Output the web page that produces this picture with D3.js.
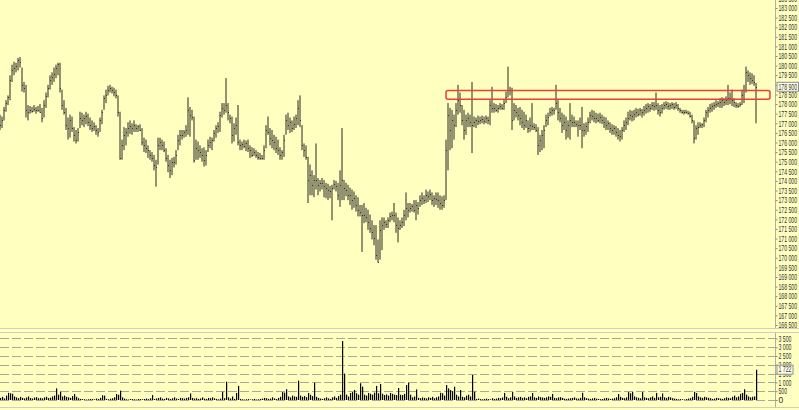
<!DOCTYPE html>
<html>
<head>
<meta charset="utf-8">
<script src="https://cdn.jsdelivr.net/npm/d3@7"></script>
<style>
  body { margin: 0; background: #ffffc0; }
  svg { display: block; }
  .lbl { font-family: "Liberation Sans", Arial, sans-serif; font-size: 8.5px; fill: #333; }
</style>
</head>
<body>
<svg id="chart" width="799" height="410"></svg>
<script>
// bar data, one entry per bar (oldest first)
const high = [
  177450,177350,177850,178200,178450,179500,180050,180200,180150,180400,
  180450,179900,179150,179000,177950,177900,177850,177950,177850,177900,
  178000,177800,178200,178600,179000,179500,179650,179900,180050,180150,
  180150,178750,178200,177800,177300,177450,177350,176800,176650,176750,
  177600,177550,177450,177600,177500,177300,177150,177050,176900,176750,
  177300,177700,178450,178750,178950,179000,178900,178850,178750,178450,
  177600,176150,176800,176750,177050,177150,177000,177150,176950,176900,
  176950,176750,176250,176150,175850,175600,175500,175350,175100,176250,
  176250,176150,176050,175700,175350,175100,175200,175250,175600,176400,
  176650,176650,176650,176900,178350,177850,177700,177350,176150,176050,
  175850,175700,175750,175600,176150,176300,176250,176650,176900,177050,
  177600,178050,178050,179350,178050,177450,177350,177000,177300,177950,
  176150,176050,176150,176100,176150,175850,175750,175700,175600,175500,
  175450,175350,175850,176900,177350,176750,176650,176400,176300,176150,
  175750,175600,176400,177450,177550,177300,177150,177350,177450,178200,
  178450,176900,175950,175850,175250,174850,174550,174300,175950,174150,
  174050,174150,174050,173900,173850,173750,173800,174050,174000,173900,
  174550,176750,174050,173900,173800,173650,173550,173450,173250,173150,
  172750,172750,172850,172600,172500,172250,171950,171700,171700,170950,
  171950,172100,172100,171950,172100,172350,172400,172850,172350,172100,
  171950,172100,172500,173400,172850,172850,172800,173000,173000,172900,
  173250,173400,173250,173550,173450,173550,173400,173250,173400,173400,
  173250,173200,173250,176150,178050,177800,177700,177450,178050,179000,
  178600,177950,177700,177450,177550,177450,179150,177350,177300,177400,
  177350,177400,177350,177400,177350,178200,178900,178050,178000,177950,
  178050,178000,178200,178650,179950,178900,178850,178050,177950,177800,
  177850,177700,177600,177450,177150,177300,178050,177000,176950,176800,
  176400,176650,176900,177450,177550,177800,177850,177800,179000,178200,
  177800,177550,177450,177350,177150,178050,177450,177350,177150,177150,
  177300,177850,177000,177050,177300,177600,177700,177650,177550,177500,
  177550,177450,177350,177300,177150,177050,176950,176900,176850,176750,
  176650,176800,177150,177300,177600,177700,177650,177700,177800,177750,
  177800,177750,177900,178000,178050,178000,178100,178100,178600,178050,
  177950,178000,178100,178150,178100,178050,178100,178050,178100,178000,
  177800,177700,177700,177700,177650,177600,177450,177150,176900,177050,
  177050,177000,177300,177700,177850,178000,178050,178100,178200,178150,
  178300,178350,178300,178400,179000,178600,178750,178300,178100,178050,
  178100,178750,179000,179950,179750,179650,179600,179500,179100
];
const low = [
  176650,176750,177150,177600,177950,178200,179150,179500,179650,179750,
  179900,178650,178600,177300,177150,177500,177550,177600,177500,177600,
  177550,177050,177300,177800,178350,178750,179000,179150,179350,179500,
  178600,177700,177450,176650,176150,176250,176550,176050,175950,176050,
  176750,176900,176800,176950,176850,176650,176550,176600,176400,176300,
  176550,176950,177700,178050,178450,178600,178550,178400,178300,177350,
  175100,175100,175600,175850,176300,176450,176400,176550,176550,176550,
  176600,175850,175500,175450,175200,175100,175000,174550,173700,174850,
  175600,175600,175500,175000,174450,174150,174300,174700,174850,175600,
  175850,176150,176250,176300,176400,176300,177150,174950,175100,175100,
  175200,175000,174750,174800,175500,175700,175600,176050,176250,176500,
  176550,177300,177450,177550,177150,177000,175950,176050,176400,175850,
  175600,175600,175700,175550,175500,175200,175250,175300,175200,175100,
  175100,175100,175100,175700,176400,175850,175700,175600,175450,175350,
  175100,175100,175250,176400,176650,176500,176550,176650,176750,176900,
  176800,175600,175250,175100,172850,173250,173250,173150,173550,173250,
  173450,173550,173150,173100,173000,173100,171950,173550,173450,173000,
  172650,173000,173000,173200,173000,172750,172500,172600,172400,172150,
  172150,170300,171800,171850,171450,171300,170950,170650,169900,169750,
  169900,170400,171450,171550,171550,171850,171950,171850,171300,170800,
  171450,171550,171650,171950,172100,172350,172400,172350,171950,172250,
  172650,172750,172800,172850,172900,173000,172750,172650,172750,172600,
  172500,172500,172600,173000,174550,175600,175700,176150,176800,177450,
  177550,176900,176150,176400,176800,176800,175450,176800,176750,176900,
  176950,177000,176950,177000,176950,176900,177550,177550,177600,177550,
  177700,177700,177700,178050,178350,178450,176650,177150,177300,177150,
  176900,176750,176650,176750,176500,176550,176650,176650,176550,175350,
  175500,175600,175700,176800,176900,177350,177400,177450,177700,177150,
  177050,176500,176650,176150,176250,176150,176800,176800,176800,176300,
  176650,175700,176300,176400,176550,177000,177150,177050,177000,177050,
  177000,176950,176750,176650,176650,176500,176400,176400,176300,176150,
  176050,176150,176550,176650,176900,177150,177100,177150,177300,177350,
  177400,177300,177400,177500,177550,177600,177700,177650,177700,177450,
  177350,177500,177700,177750,177700,177700,177750,177700,177750,177650,
  177550,177500,177450,177500,177450,177300,177000,175950,176150,176400,
  176750,176750,176800,177050,177300,177550,177600,177700,177800,177850,
  177800,177800,177900,177950,177950,178000,177900,177850,177800,177800,
  177850,177950,178050,178600,179150,179000,179050,178950,177000
];
const close = [
  176900,177150,177700,178050,178350,179250,179750,179900,180000,180300,
  180200,179000,178850,177700,177600,177700,177650,177750,177700,177700,
  177600,177300,177950,178400,178850,179250,179400,179550,179900,180100,
  178850,177950,177600,176900,176750,177150,176750,176400,176150,176550,
  177300,177150,177300,177400,177050,176900,176750,176850,176650,176550,
  177150,177600,178300,178450,178750,178850,178750,178650,178450,177600,
  175200,175850,176400,176550,176750,176850,176750,176900,176750,176850,
  176650,176050,175850,175700,175600,175350,175200,174850,174700,175850,
  176050,175850,175600,175200,174850,174550,175000,175000,175350,176150,
  176400,176400,176550,176650,177700,177450,177350,175100,175700,175600,
  175500,175350,175100,175350,175850,176050,176150,176500,176750,176850,
  177450,177800,177700,177950,177600,177300,176400,176750,176900,176050,
  175850,175900,175800,175950,175700,175600,175350,175500,175350,175250,
  175200,175200,175600,176650,176550,176250,176150,176050,175700,175600,
  175350,175500,176150,177150,176900,177050,176750,176950,177300,177800,
  177150,175850,175600,175250,174050,174300,173800,174050,174050,173800,
  173900,173900,173750,173650,173550,173450,173650,173850,173750,173250,
  173800,174050,173650,173550,173250,173250,173000,173100,172750,172500,
  172400,172250,172250,172100,171850,171550,171350,171050,170150,169800,
  171450,171700,171850,171750,171950,172150,172250,172250,171700,171550,
  171700,171850,172250,172600,172500,172600,172700,172500,172750,172600,
  173000,173100,173000,173250,173200,173300,173000,173100,173050,173000,
  172850,172750,173000,175600,177450,176650,177150,176900,177700,178200,
  177950,177150,176650,177150,177300,177050,176900,177050,177150,177100,
  177150,177200,177100,177300,177150,177950,177800,177800,177700,177800,
  177900,177800,178050,178350,178750,178750,177150,177700,177600,177450,
  177300,177050,176900,177150,176750,176900,176850,176800,176650,175850,
  176150,176400,176650,177150,177350,177600,177700,177700,178050,177600,
  177300,176900,177050,176650,176900,177150,177050,177050,176950,176900,
  176900,176650,176650,176850,177050,177450,177400,177300,177300,177150,
  177350,177150,177050,176900,177000,176750,176650,176750,176550,176400,
  176350,176650,176900,177050,177300,177450,177400,177500,177600,177500,
  177700,177600,177700,177800,177900,177800,177950,177900,177950,177700,
  177600,177800,177950,178000,177900,177950,178000,177850,177950,177800,
  177700,177600,177600,177600,177550,177400,177150,176250,176750,176800,
  176900,176950,177150,177600,177700,177800,177900,177950,178000,178050,
  178100,178200,178100,178200,178300,178300,178200,178100,177950,177900,
  178000,178450,178750,179650,179500,179350,179250,179150,178900
];
const volume = [
  120,180,90,250,410,380,350,200,150,100,
  180,120,90,150,200,110,80,140,160,100,
  120,90,150,180,110,130,200,250,660,300,
  470,200,250,180,150,120,220,340,180,100,
  60,50,40,30,40,60,50,40,80,60,
  120,270,250,60,40,70,100,150,340,300,
  530,150,80,40,30,60,50,40,30,60,
  50,40,60,80,50,100,280,60,90,120,
  150,80,60,120,90,60,100,150,80,60,
  120,100,80,120,150,370,120,80,100,60,
  90,150,80,60,120,100,150,90,60,40,
  80,470,100,1040,150,80,200,60,400,800,
  60,40,30,40,50,30,40,60,30,40,
  60,80,120,100,60,80,150,90,60,120,
  180,450,420,610,200,150,250,200,180,1100,
  250,180,220,160,400,300,220,980,180,120,
  80,60,100,150,90,60,150,200,120,220,
  300,3350,1500,300,200,400,450,570,380,300,
  950,760,300,250,400,350,300,420,800,380,
  910,350,280,320,250,400,350,300,280,680,
  300,280,350,850,980,300,150,200,600,120,
  100,150,120,90,150,120,180,100,150,200,
  410,380,250,850,660,570,500,760,300,200,
  570,180,150,250,300,200,1420,470,60,80,
  50,40,60,80,50,40,100,60,80,120,
  100,150,400,180,100,150,450,200,120,150,
  180,120,150,100,180,200,400,150,120,200,
  160,140,120,150,200,180,340,120,100,150,
  160,120,80,60,80,100,120,150,90,80,
  120,410,150,100,80,60,90,120,80,60,
  50,60,100,120,90,60,80,100,150,340,
  180,120,100,150,450,380,460,200,150,120,
  100,450,150,120,100,150,200,120,400,150,
  180,370,150,120,180,150,100,80,60,40,
  50,40,30,60,80,100,180,470,400,200,
  150,120,180,150,120,100,60,80,120,100,
  80,60,100,150,120,100,180,250,150,200,
  350,400,610,300,200,150,180,200,1722
];

const priceTicks = d3.range(166500, 184000, 500);
const volumeTicks = [0, 500, 1000, 1500, 2000, 2500, 3000, 3500];
const lastPrice = 178900;
const lastVolume = 1722;
// marked resistance band (bar index range, price range)
const zone = { from: 223, to: 385, top: 178700, bottom: 178250 };

const W = 799, H = 410, axisX = 775.5;

const svg = d3.select("#chart");

const x = d3.scaleLinear().domain([0, high.length - 1]).range([0, 756]);
const yP = d3.scaleLinear().domain([166500, 183000]).range([325, 8]);
const yV = d3.scaleLinear().domain([0, 3500]).range([400, 338.4]);

const fmt = d3.formatLocale({decimal: ".", thousands: " ", grouping: [3], currency: ["", ""]}).format(",");

svg.append("rect").attr("width", W).attr("height", H).attr("fill", "#ffffc0");

// panel separators
[328.5, 332.5, 407.5].forEach(function(y) {
  svg.append("line").attr("x1", 0).attr("x2", W).attr("y1", y).attr("y2", y)
    .attr("stroke", "#cfcfc0").attr("stroke-width", 1);
});

// volume grid
svg.append("g").selectAll("line")
  .data(volumeTicks)
  .enter().append("line")
  .attr("x1", 0).attr("x2", axisX)
  .attr("y1", function(d) { return Math.round(yV(d)) + 0.5; })
  .attr("y2", function(d) { return Math.round(yV(d)) + 0.5; })
  .attr("stroke", "#a8a8a0")
  .attr("stroke-dasharray", "9,3");

// volume bars
svg.append("g").selectAll("rect")
  .data(volume)
  .enter().append("rect")
  .attr("x", function(d, i) { return x(i); })
  .attr("width", 1.2)
  .attr("y", function(d) { return yV(d); })
  .attr("height", function(d) { return yV(0) - yV(d); })
  .attr("fill", "#000");

// price bars (high-low with close tick)
svg.append("path")
  .attr("d", high.map(function(h, i) {
    var xi = x(i);
    var yc = Math.round(yP(close[i])) + 0.5;
    return "M" + xi + "," + yP(h) + "V" + yP(low[i]) + "M" + xi + "," + yc + "H" + (xi + 0.8);
  }).join(""))
  .attr("fill", "none")
  .attr("stroke", "#111")
  .attr("stroke-width", 0.9);

// resistance band
svg.append("rect")
  .attr("x", x(zone.from))
  .attr("y", yP(zone.top))
  .attr("width", x(zone.to) - x(zone.from))
  .attr("height", yP(zone.bottom) - yP(zone.top))
  .attr("rx", 2)
  .attr("fill", "none")
  .attr("stroke", "#e8403a")
  .attr("stroke-width", 1.5);

// axes
svg.append("line").attr("x1", axisX).attr("x2", axisX).attr("y1", 0).attr("y2", 328)
  .attr("stroke", "#b0b0a0");
svg.append("line").attr("x1", axisX).attr("x2", axisX).attr("y1", 333).attr("y2", 407)
  .attr("stroke", "#b0b0a0");

function squeeze(sel) {
  sel.selectAll("text")
    .attr("class", "lbl")
    .each(function() {
      var t = d3.select(this).text();
      if (t.length >= 3) {
        var digits = t.replace(/ /g, "").length;
        var spaces = t.length - digits;
        d3.select(this).attr("textLength", digits * 2.85 + spaces * 1.5)
          .attr("lengthAdjust", "spacingAndGlyphs");
      }
    });
  sel.select(".domain").remove();
  sel.selectAll(".tick line").attr("stroke", "#888");
}

svg.append("g")
  .attr("transform", "translate(" + axisX + ",0)")
  .call(d3.axisRight(yP).tickValues(priceTicks).tickSize(2).tickPadding(1).tickFormat(fmt))
  .call(squeeze);

svg.append("g")
  .attr("transform", "translate(" + axisX + ",0)")
  .call(d3.axisRight(yV).tickValues(volumeTicks).tickSize(2).tickPadding(1).tickFormat(fmt))
  .call(squeeze);

// last value markers
function marker(y, label, w) {
  var g = svg.append("g").attr("transform", "translate(" + (axisX + 1) + "," + y + ")");
  g.append("rect").attr("x", 0.5).attr("y", -4.5).attr("width", w).attr("height", 9)
    .attr("fill", "#ffffe8").attr("stroke", "#909090");
  var digits = label.replace(/ /g, "").length;
  g.append("text").attr("class", "lbl").attr("x", 2).attr("dy", "0.32em")
    .attr("textLength", digits * 2.85 + (label.length - digits) * 1.5)
    .attr("lengthAdjust", "spacingAndGlyphs")
    .text(label);
}
marker(yP(lastPrice), fmt(lastPrice), 21.5);
marker(yV(lastVolume), fmt(lastVolume), 16);
</script>
</body>
</html>
